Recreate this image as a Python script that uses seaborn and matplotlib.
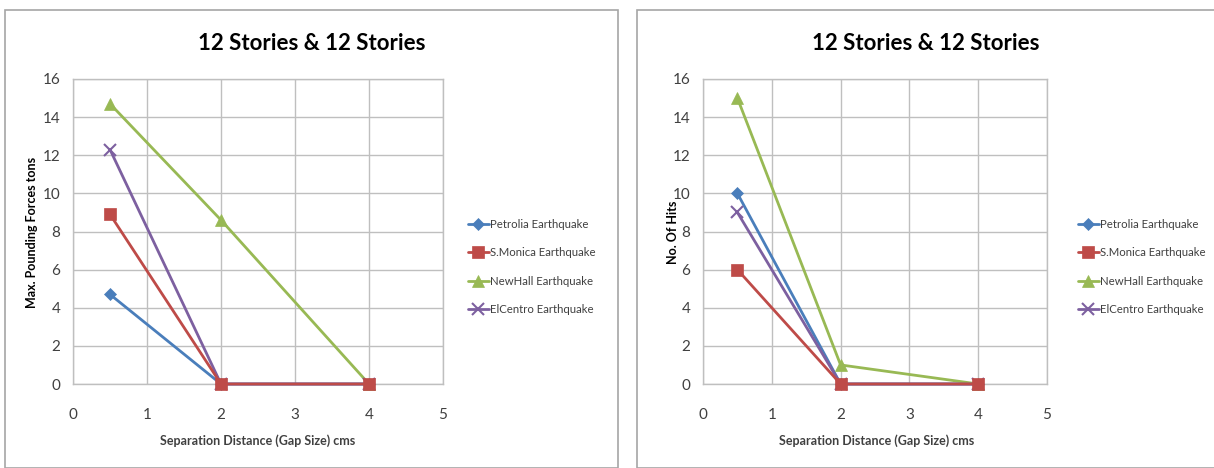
import matplotlib
matplotlib.use("Agg")
import matplotlib.pyplot as plt
import seaborn as sns
import pandas as pd
from matplotlib.patches import Rectangle

gap = [0.5, 2, 4]
series_names = ["Petrolia Earthquake", "S.Monica Earthquake", "NewHall Earthquake", "ElCentro Earthquake"]
force_petrolia = [4.7, 0, 0]
force_smonica = [8.9, 0, 0]
force_newhall = [14.7, 8.6, 0]
force_elcentro = [12.3, 0, 0]
hits_petrolia = [10, 0, 0]
hits_smonica = [6, 0, 0]
hits_newhall = [15, 1, 0]
hits_elcentro = [9, 0, 0]

title = "12 Stories & 12 Stories"
xlabel = "Separation Distance (Gap Size) cms"
ylabel_left = "Max. Pounding Forces tons"
ylabel_right = "No. Of Hits"

colors = ["#4A7EBB", "#BE4B48", "#98B954", "#7D60A0"]
markers = ["D", "s", "^", "x"]
msizes = [6, 9, 8, 8]

sns.set_theme(style="white")
plt.rcParams["font.family"] = ["Lato", "DejaVu Sans"]

def make_df(vals):
    rows = []
    for name, v in zip(series_names, vals):
        for x, y in zip(gap, v):
            rows.append({"gap": x, "val": y, "series": name})
    return pd.DataFrame(rows)

fig = plt.figure(figsize=(12.14, 4.68), dpi=100)

fig.patches.append(Rectangle((5/1214, 0), 613/1214, 1 - 10/468, transform=fig.transFigure,
                             fill=False, edgecolor="#A6A6A6", linewidth=1.2))
fig.patches.append(Rectangle((637/1214, 0), 600/1214, 1 - 10/468, transform=fig.transFigure,
                             fill=False, edgecolor="#A6A6A6", linewidth=1.2))

panels = [
    (73, 443, [force_petrolia, force_smonica, force_newhall, force_elcentro], ylabel_left, 312, 258, 32, 463),
    (703, 1047, [hits_petrolia, hits_smonica, hits_newhall, hits_elcentro], ylabel_right, 926, 877, 673, 1073),
]

zorders = [3, 6, 4, 5]
for (x0, x1, vals, ylab, tcx, xlcx, ylx, legx) in panels:
    ax = fig.add_axes([x0/1214, 1 - 384/468, (x1 - x0)/1214, (384 - 79)/468])
    df = make_df(vals)
    for name, c, m, ms, z in zip(series_names, colors, markers, msizes, zorders):
        sub = df[df.series == name]
        sns.lineplot(data=sub, x="gap", y="val", ax=ax, color=c, marker=m, markersize=ms,
                     linewidth=2, markeredgecolor=c, markeredgewidth=1.5 if m == "x" else 0.5,
                     label=name, legend=False, clip_on=False, zorder=z)
    ax.set_xlim(0, 5)
    ax.set_ylim(0, 16)
    ax.set_xticks(range(0, 6))
    ax.set_yticks(range(0, 17, 2))
    ax.grid(True, color="#BFBFBF", linewidth=1)
    ax.set_axisbelow(True)
    for s in ax.spines.values():
        s.set_color("#BFBFBF")
        s.set_linewidth(1)
    ax.tick_params(axis="x", labelsize=11, colors="#404040", length=0, pad=17)
    ax.tick_params(axis="y", labelsize=11, colors="#404040", length=0, pad=9)
    ax.set_xlabel("")
    ax.set_ylabel("")
    fig.text(tcx/1214, 1 - 44/468, title, ha="center", va="center", fontsize=16, fontweight="bold", color="black")
    fig.text(xlcx/1214, 1 - 441/468, xlabel, ha="center", va="center", fontsize=9, fontweight="bold", color="#404040")
    fig.text(ylx/1214, 1 - 232/468, ylab, ha="center", va="center", rotation=90, fontsize=9, fontweight="bold", color="black")
    handles, labels = ax.get_legend_handles_labels()
    leg = fig.legend(handles, labels, loc="center left", bbox_to_anchor=(legx/1214, 1 - 267/468),
                     frameon=False, fontsize=8.2,
                     handlelength=1.9, handletextpad=0.05, labelspacing=1.55, borderaxespad=0)
    for t in leg.get_texts():
        t.set_color("#404040")

fig.savefig("out.png", dpi=100)
